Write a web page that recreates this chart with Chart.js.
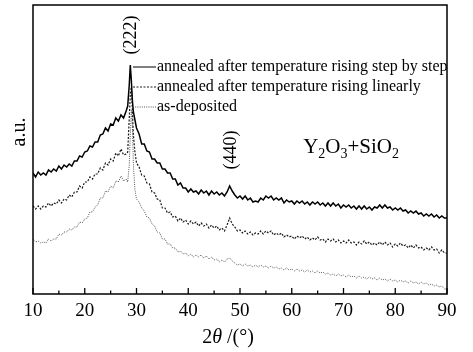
<!DOCTYPE html>
<html><head><meta charset="utf-8">
<script src="https://cdn.jsdelivr.net/npm/chart.js@4.4.1/dist/chart.umd.min.js"></script>
<style>html,body{margin:0;padding:0;background:#fff;}canvas{display:block;}</style>
</head><body>
<canvas id="c" width="473" height="352"></canvas>
<script>
const xs = [10,10.5,11,11.5,12,12.5,13,13.5,14,14.5,15,15.5,16,16.5,17,17.5,18,18.5,19,19.5,20,20.5,21,21.5,22,22.5,23,23.5,24,24.5,25,25.5,26,26.5,27,27.5,28,28.3,28.6,28.8,29,29.2,29.4,29.7,30,30.5,31,31.5,32,32.5,33,33.5,34,34.5,35,35.5,36,36.5,37,37.5,38,38.5,39,39.5,40,40.5,41,41.5,42,42.5,43,43.5,44,44.5,45,45.5,46,46.5,47,47.5,48,48.5,49,49.5,50,50.5,51,51.5,52,52.5,53,53.5,54,54.5,55,55.5,56,56.5,57,57.5,58,58.5,59,59.5,60,60.5,61,61.5,62,62.5,63,63.5,64,64.5,65,65.5,66,66.5,67,67.5,68,68.5,69,69.5,70,70.5,71,71.5,72,72.5,73,73.5,74,74.5,75,75.5,76,76.5,77,77.5,78,78.5,79,79.5,80,80.5,81,81.5,82,82.5,83,83.5,84,84.5,85,85.5,86,86.5,87,87.5,88,88.5,89,89.5,90];

const stepByStep = [121,117,122,119,121,119,124,122,125,123,128,125,129,127,130,128,133,133,138,137,142,143,148,147,152,152,159,160,166,163,170,169,176,173,179,176,183,
188,209,229,214,194,182,174,
166,160,150,150,143,142,135,135,131,131,125,125,121,121,115,115,109,111,106,106,102,105,102,103,100,104,101,103,99,103,100,102,99,101,98,102,108,103,99,96,98,
95,98,94,96,92,93,92,96,94,98,96,98,94,96,94,96,91,94,92,93,
90,93,91,93,90,92,89,92,90,92,89,91,88,91,88,91,88,90,86,89,
87,89,86,88,85,88,85,88,85,87,84,87,86,89,86,89,86,87,84,86,
84,86,83,84,81,83,81,83,80,81,78,80,78,80,77,79,76,78,76,76];

const linearly = [88,85,88,85,88,87,91,88,91,90,94,91,95,94,99,97,102,102,108,106,112,112,117,115,120,120,126,124,131,129,135,133,141,138,145,139,140,
142,176,199,207,184,159,142,
131,127,119,118,111,110,102,101,95,94,86,86,81,82,77,78,73,76,72,74,70,73,70,72,68,71,68,70,66,69,66,68,64,66,63,69,76,70,67,63,64,
61,63,60,62,59,61,60,63,60,63,61,63,59,61,59,61,57,59,57,58,
55,58,56,58,55,57,54,56,54,57,54,55,52,55,53,55,52,54,51,53,
51,54,51,52,49,52,50,53,50,52,49,51,49,52,49,52,49,51,47,50,
48,51,48,49,46,49,46,49,46,47,44,46,44,47,44,45,41,44,41,41];

const asDeposited = [55,52,53,51,52,51,55,53,55,55,60,59,62,62,65,64,67,67,72,71,75,76,82,82,87,89,96,96,103,102,108,106,113,112,118,113,115,
112,129,159,184,169,129,104,
95,92,86,83,77,76,70,68,62,61,55,55,50,50,46,46,42,43,40,41,38,40,37,39,37,39,36,38,35,37,34,35,32,34,32,35,36,33,31,29,30,
28,30,28,29,27,29,27,29,27,28,26,28,26,27,25,26,24,26,24,25,
23,25,23,24,22,24,22,23,21,23,21,22,20,21,19,20,18,20,18,19,
17,19,17,18,16,18,16,17,15,17,15,16,14,16,14,15,13,15,13,14,
12,14,12,13,11,13,11,12,10,12,10,11,9,10,8,9,7,8,5,5];

const seriesLabels = ['annealed after temperature rising step by step','annealed after temperature rising linearly','as-deposited'];
const xTickValues = [10,20,30,40,50,60,70,80,90];
const peakLabels = [{text:'(222)', x:28.95, y:259},{text:'(440)', x:48.3, y:144}];

const SERIF = '"Liberation Serif","DejaVu Serif",serif';
const pts = arr => xs.map((x,i)=>({x:x, y:arr[i]}));

const decor = {
  id:'decor',
  afterDraw(chart){
    const ctx = chart.ctx, a = chart.chartArea, xs_ = chart.scales.x, ys_ = chart.scales.y;
    ctx.save();
    ctx.strokeStyle = '#000'; ctx.lineWidth = 1.5; ctx.setLineDash([]);
    ctx.strokeRect(a.left, a.top, a.right - a.left, a.bottom - a.top);
    ctx.lineWidth = 1.3;
    xTickValues.forEach((v,i)=>{
      const p = xs_.getPixelForValue(v);
      ctx.beginPath(); ctx.moveTo(p, a.bottom); ctx.lineTo(p, a.bottom - 6); ctx.stroke();
      if (i < xTickValues.length - 1){
        const m = xs_.getPixelForValue((v + xTickValues[i+1]) / 2);
        ctx.beginPath(); ctx.moveTo(m, a.bottom); ctx.lineTo(m, a.bottom - 3.5); ctx.stroke();
      }
    });
    ctx.fillStyle = '#000';
    peakLabels.forEach(pl=>{
      ctx.save();
      ctx.translate(xs_.getPixelForValue(pl.x), ys_.getPixelForValue(pl.y));
      ctx.rotate(-Math.PI/2);
      ctx.font = '18px ' + SERIF; ctx.textAlign = 'center'; ctx.textBaseline = 'middle';
      ctx.fillText(pl.text, 0, 0);
      ctx.restore();
    });
    const ds = chart.data.datasets;
    ctx.font = '16px ' + SERIF; ctx.textAlign = 'left'; ctx.textBaseline = 'alphabetic';
    const lx0 = a.left + 100, lx1 = a.left + 123, tx = a.left + 124;
    ds.forEach((d,i)=>{
      const base = a.top + 66 + i*20;
      ctx.strokeStyle = d.borderColor; ctx.lineWidth = 1; ctx.setLineDash(d.borderDash || []);
      ctx.beginPath(); ctx.moveTo(lx0, base - 4); ctx.lineTo(lx1, base - 4); ctx.stroke();
      ctx.setLineDash([]);
      ctx.fillText(d.label, tx, base);
    });
    const parts = [['Y',0],['2',1],['O',0],['3',1],['+SiO',0],['2',1]];
    let px = xs_.getPixelForValue(62.2), py = ys_.getPixelForValue(141);
    parts.forEach(([t,sub])=>{
      ctx.font = (sub ? '14px ' : '21px ') + SERIF;
      ctx.fillText(t, px, py + (sub ? 5 : 0));
      px += ctx.measureText(t).width;
    });
    const tparts = [['2','normal'],['θ','italic'],[' /(°)','normal']];
    let tw = 0;
    tparts.forEach(([t,st])=>{ ctx.font = st + ' 20px ' + SERIF; tw += ctx.measureText(t).width; });
    let tx2 = 228 - tw/2;
    ctx.textBaseline = 'middle';
    tparts.forEach(([t,st])=>{ ctx.font = st + ' 20px ' + SERIF; ctx.fillText(t, tx2, 338); tx2 += ctx.measureText(t).width; });
    ctx.save();
    ctx.translate(20, 132); ctx.rotate(-Math.PI/2);
    ctx.font = '20px ' + SERIF; ctx.textAlign = 'center'; ctx.textBaseline = 'middle';
    ctx.fillText('a.u.', 0, 0);
    ctx.restore();
    ctx.restore();
  }
};

new Chart(document.getElementById('c'), {
  type:'line',
  data:{ datasets:[
    {label:seriesLabels[0], data:pts(stepByStep), borderColor:'#000', borderWidth:1.5, pointRadius:0, tension:0},
    {label:seriesLabels[1], data:pts(linearly), borderColor:'#1a1a1a', borderWidth:1.2, borderDash:[2,1.5], pointRadius:0, tension:0},
    {label:seriesLabels[2], data:pts(asDeposited), borderColor:'#555', borderWidth:1, borderDash:[1,1.2], pointRadius:0, tension:0}
  ]},
  options:{
    responsive:false, animation:false, devicePixelRatio:1,
    layout:{padding:{left:33, right:26, top:5, bottom:0}},
    plugins:{legend:{display:false}, tooltip:{enabled:false}},
    scales:{
      x:{type:'linear', min:10, max:90,
         ticks:{stepSize:10, color:'#000', padding:6, font:{family:SERIF, size:19}, maxRotation:0},
         grid:{display:false, drawTicks:false}, border:{display:false},
         afterFit(s){ s.height = 58; }},
      y:{display:false, min:0, max:289}
    }
  },
  plugins:[decor]
});
</script>
</body></html>
